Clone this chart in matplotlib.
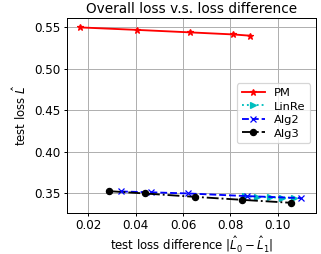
import matplotlib
matplotlib.use("Agg")
import matplotlib.pyplot as plt

# values
pm_x = [0.0163, 0.0404, 0.0629, 0.0813, 0.0883]
pm_y = [0.5500, 0.5470, 0.5440, 0.5415, 0.5400]

linre_x = [0.0861, 0.0913, 0.0970, 0.1020, 0.1070]
linre_y = [0.3460, 0.3455, 0.3450, 0.3445, 0.3440]

alg2_x = [0.0338, 0.0463, 0.0621, 0.0871, 0.1100]
alg2_y = [0.3520, 0.3510, 0.3496, 0.3464, 0.3440]

alg3_x = [0.0286, 0.0438, 0.0650, 0.0850, 0.1058]
alg3_y = [0.3524, 0.3496, 0.3455, 0.3419, 0.3383]

xticks = [0.02, 0.04, 0.06, 0.08, 0.10]
yticks = [0.35, 0.40, 0.45, 0.50, 0.55]

DPI = 89
plt.rcParams["font.size"] = 9.5
plt.rcParams["xtick.major.size"] = 2.5
plt.rcParams["ytick.major.size"] = 2.8
plt.rcParams["xtick.major.pad"] = 2.5
plt.rcParams["ytick.major.pad"] = 2.5

fig, ax = plt.subplots(figsize=(321 / DPI, 254 / DPI), dpi=DPI)
fig.subplots_adjust(left=0.209, right=0.984, top=0.930, bottom=0.163)

ax.plot(pm_x, pm_y, "r-*", markersize=5, label="PM")
ax.plot(linre_x, linre_y, "c:>", markersize=5, label="LinRe")
ax.plot(alg2_x, alg2_y, "b--x", markersize=5, label="Alg2")
ax.plot(alg3_x, alg3_y, "k-.o", markersize=5, label="Alg3")

ax.set_xlim(0.011, 0.1162)
ax.set_ylim(0.3265, 0.5616)
ax.set_xticks(xticks)
ax.set_yticks(yticks)
ax.tick_params(labelsize=9.7)
ax.grid(True)
ax.set_xlabel(r"test loss difference $|\hat{L}_0 - \hat{L}_1|$", labelpad=2)
ax.set_ylabel(r"test loss $\hat{L}$", labelpad=4)
ax.set_title("Overall loss v.s. loss difference", fontsize=11, pad=3.5)
ax.legend(loc="center right", bbox_to_anchor=(1.0, 0.51), fontsize=9.3,
          labelspacing=0.3)

fig.savefig("out.png", dpi=DPI)
